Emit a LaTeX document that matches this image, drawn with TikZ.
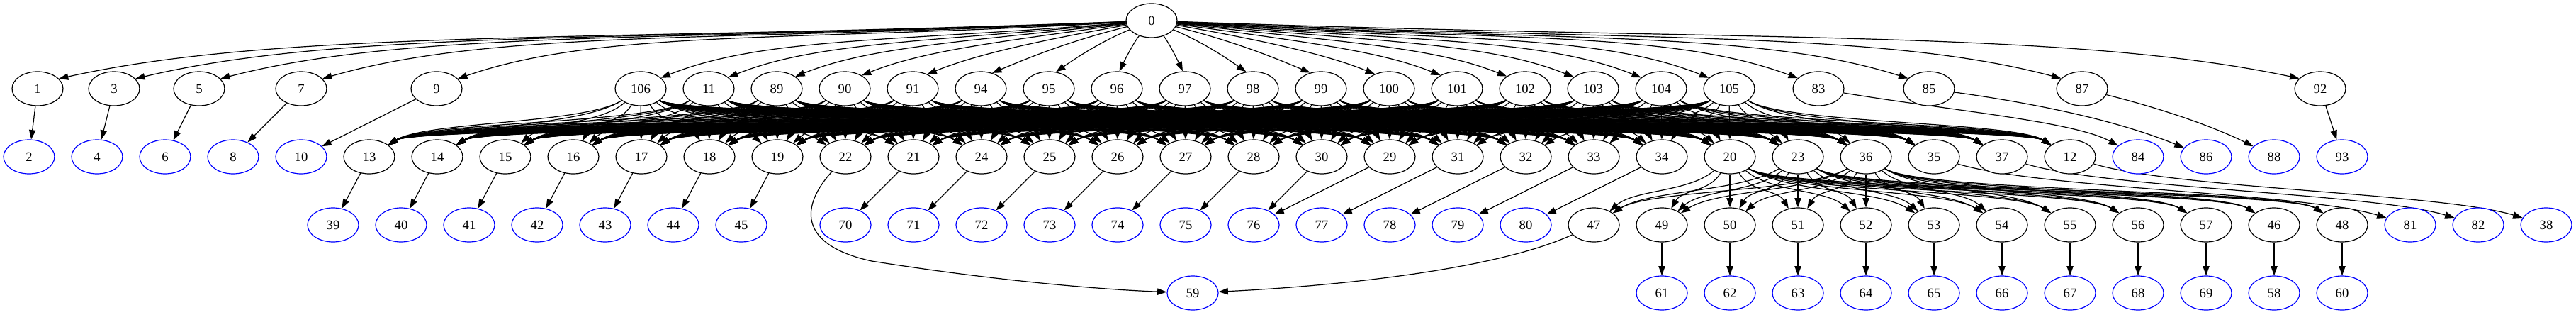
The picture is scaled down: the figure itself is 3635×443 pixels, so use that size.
\documentclass[tikz,border=0pt]{standalone}
\usepackage{fontspec}
\setmainfont{Liberation Serif}
\usetikzlibrary{shapes.geometric,arrows.meta,calc}
\pgfdeclarelayer{bg}
\pgfsetlayers{bg,main}
\begin{document}
\begin{tikzpicture}[x=0.75pt,y=-0.75pt,
  gv/.style={ellipse,draw=black,fill=white,line width=0.9pt,minimum width=54pt,minimum height=36pt,inner sep=0pt,font=\fontsize{14pt}{16pt}\selectfont},
  lf/.style={gv,draw=blue},
  e/.style={line width=0.9pt,-{Triangle[length=10pt,width=7pt]}}]
\useasboundingbox (0,0) rectangle (3635,443);
% rank 0
\node[gv] (n0) at (1625,29) {0};
% rank 1
\foreach \n/\x in {1/53,3/161,5/281,7/425,9/616,106/904,11/1000,89/1096,90/1192,91/1288,94/1384,95/1480,96/1576,97/1672,98/1768,99/1864,100/1960,101/2056,102/2152,103/2248,104/2344,105/2440,83/2566,85/2722,87/2938,92/3274}
  \node[gv] (n\n) at (\x,125) {\n};
% rank 2
\foreach \n/\x in {2/41,4/137,6/233,8/329,10/425,84/3017,86/3113,88/3209,93/3305}
  \node[lf] (n\n) at (\x,221) {\n};
\foreach \n/\x in {13/521,14/617,15/713,16/809,17/905,18/1001,19/1097,22/1193,21/1289,24/1385,25/1481,26/1577,27/1673,28/1769,30/1865,29/1961,31/2057,32/2153,33/2249,34/2345,20/2441,23/2537,36/2633,35/2729,37/2825,12/2921}
  \node[gv] (n\n) at (\x,221) {\n};
% rank 3
\foreach \n/\x in {39/470,40/566,41/662,42/758,43/854,44/950,45/1046,70/1193,71/1289,72/1385,73/1481,74/1577,75/1673,76/1769,77/1865,78/1961,79/2057,80/2153,81/3401,82/3497,38/3593}
  \node[lf] (n\n) at (\x,317) {\n};
\foreach \n/\x in {47/2249,49/2345,50/2441,51/2537,52/2633,53/2729,54/2825,55/2921,56/3017,57/3113,46/3209,48/3305}
  \node[gv] (n\n) at (\x,317) {\n};
% rank 4
\foreach \n/\x in {59/1683,61/2345,62/2441,63/2537,64/2633,65/2729,66/2825,67/2921,68/3017,69/3113,58/3209,60/3305}
  \node[lf] (n\n) at (\x,413) {\n};

\begin{pgfonlayer}{bg}
% 0 -> rank 1
\foreach \t/\tx in {1/53,3/161,5/281,7/425,9/616,106/904,11/1000,89/1096,90/1192,91/1288,94/1384,95/1480,96/1576,97/1672,98/1768,99/1864,100/1960,101/2056,102/2152,103/2248,104/2344,105/2440,83/2566,85/2722,87/2938,92/3274}{
  \pgfmathsetmacro\dx{\tx-1625}
  \pgfmathsetmacro\ea{90+65*tanh(\dx/400)}
  \pgfmathsetmacro\ax{0.5*\dx}
  \pgfmathsetmacro\bx{-0.2*\dx}
  \pgfmathsetmacro\by{-max(20,min(0.08*abs(\dx),70))}
  \draw[e] (n0) .. controls ($(n0)+(\ax,30)$) and ($(n\t.\ea)+(\bx,\by)$) .. (n\t.\ea);
}
% hubs -> rank 2
\foreach \h/\hx in {106/904,11/1000,89/1096,90/1192,91/1288,94/1384,95/1480,96/1576,97/1672,98/1768,99/1864,100/1960,101/2056,102/2152,103/2248,104/2344,105/2440}{
  \foreach \t/\tx in {13/521,14/617,15/713,16/809,17/905,18/1001,19/1097,22/1193,21/1289,24/1385,25/1481,26/1577,27/1673,28/1769,30/1865,29/1961,31/2057,32/2153,33/2249,34/2345,20/2441,23/2537,36/2633,35/2729,37/2825,12/2921}{
    \pgfmathsetmacro\cx{max(-80,min(80,0.3*(\tx-\hx)))}
    \draw[e] (n\h) .. controls ($(n\h)+(\cx,50)$) and ($(n\t)+(-\cx,-50)$) .. (n\t);
  }
}
% 20,23,36 -> rank 3
\foreach \h/\hx in {20/2441,23/2537,36/2633}{
  \foreach \t/\tx in {47/2249,49/2345,50/2441,51/2537,52/2633,53/2729,54/2825,55/2921,56/3017,57/3113,46/3209,48/3305}{
    \pgfmathsetmacro\cx{max(-80,min(80,0.3*(\tx-\hx)))}
    \draw[e] (n\h) .. controls ($(n\h)+(\cx,50)$) and ($(n\t)+(-\cx,-50)$) .. (n\t);
  }
}
% straight edges
\foreach \a/\b in {1/2,3/4,5/6,7/8,9/10,92/93,13/39,14/40,15/41,16/42,17/43,18/44,19/45,21/70,24/71,25/72,26/73,27/74,28/75,30/76,29/76,31/77,32/78,33/79,34/80,49/61,50/62,51/63,52/64,53/65,54/66,55/67,56/68,57/69,46/58,48/60}
  \draw[e] (n\a) -- (n\b);
% curved edges
\draw[e] (n83) .. controls ($(n83)+(180,30)$) and ($(n84)+(-90,-50)$) .. (n84);
\draw[e] (n85) .. controls ($(n85)+(180,25)$) and ($(n86)+(-110,-45)$) .. (n86);
\draw[e] (n87) .. controls ($(n87)+(120,30)$) and ($(n88)+(-80,-40)$) .. (n88);
\draw[e] (n35) .. controls ($(n35)+(150,45)$) and ($(n81)+(-150,-45)$) .. (n81);
\draw[e] (n37) .. controls ($(n37)+(150,45)$) and ($(n82)+(-150,-45)$) .. (n82);
\draw[e] (n12) .. controls ($(n12)+(150,45)$) and ($(n38)+(-150,-45)$) .. (n38);
\coordinate (w22) at (1230,368);
\draw[e] (n22) .. controls (1130,290) and (1125,345) .. (w22) .. controls (1400,395) and (1550,408) .. (n59);
\draw[e] (n47) .. controls (2100,385) and (1850,405) .. (n59);
\end{pgfonlayer}
\end{tikzpicture}
\end{document}
